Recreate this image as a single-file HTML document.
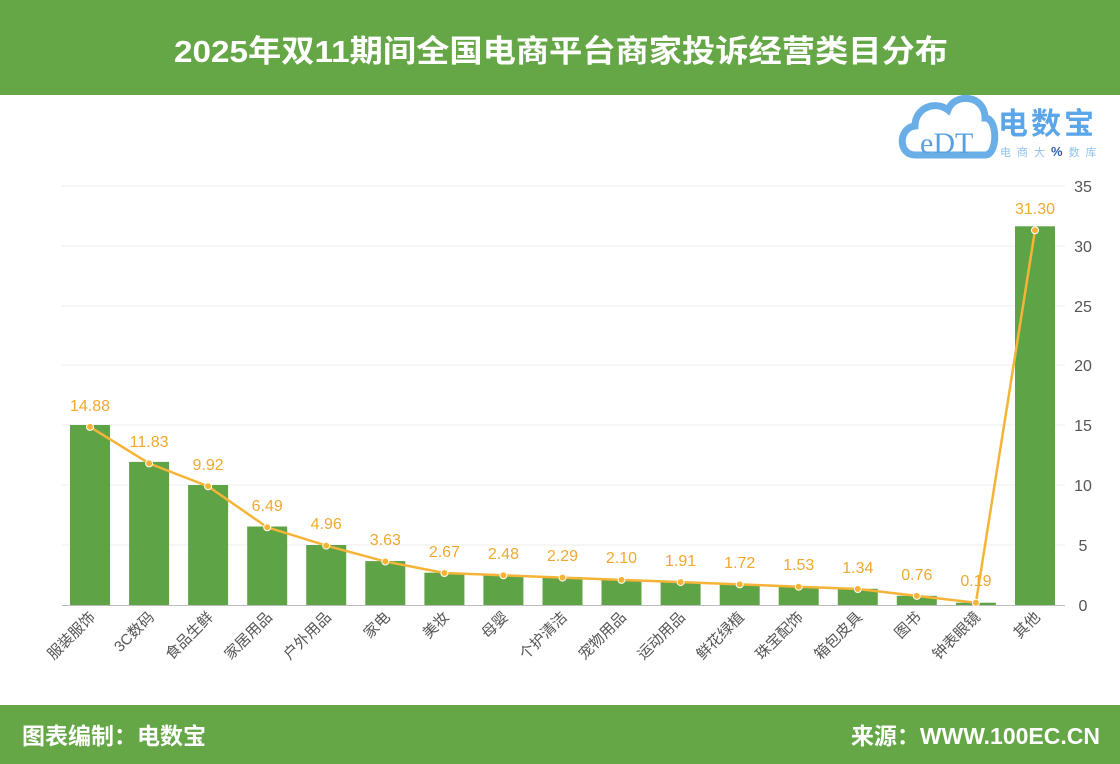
<!DOCTYPE html>
<html><head><meta charset="utf-8"><style>
body{margin:0;background:#fff}
svg{display:block}
</style></head><body>
<svg width="1120" height="764" viewBox="0 0 1120 764" xmlns="http://www.w3.org/2000/svg" font-family="Liberation Sans, Noto Sans CJK SC, sans-serif">
<rect width="1120" height="764" fill="#fff"/>
<rect x="0" y="0" width="1120" height="95" fill="#65a646"/>
<text x="561" y="62" text-anchor="middle" font-size="31" font-weight="bold" fill="#fff" textLength="774" lengthAdjust="spacingAndGlyphs">2025年双11期间全国电商平台商家投诉经营类目分布</text>
<rect x="0" y="705" width="1120" height="59" fill="#65a646"/>
<text x="22" y="744" font-size="23" font-weight="bold" fill="#fff">图表编制：电数宝</text>
<text x="1100" y="744" text-anchor="end" font-size="23" font-weight="bold" fill="#fff">来源：WWW.100EC.CN</text>
<!-- logo -->
<g>
<path d="M915 155 C898 155 898 128 915 126 C915 108 935 100 948 110 C955 92 985 95 985 118 C998 118 998 155 985 155 Z" fill="none" stroke="#6aaee8" stroke-width="7"/>
<text x="920" y="153" font-size="30" font-family="Liberation Serif, serif" fill="#5aa0e0">eDT</text>
<text x="998" y="134" font-size="30" font-weight="bold" fill="#5aa6e8" letter-spacing="3">电数宝</text>
<text x="1000" y="156" font-size="11" fill="#8fc0ec" letter-spacing="6">电商大<tspan fill="#2b5fae" font-weight="bold" font-size="13">%</tspan>数库</text>
</g>
<!-- grid -->
<g stroke="#ececec" stroke-width="1">
<line x1="62" x2="1065" y1="186" y2="186"/>
<line x1="62" x2="1065" y1="246" y2="246"/>
<line x1="62" x2="1065" y1="306" y2="306"/>
<line x1="62" x2="1065" y1="365" y2="365"/>
<line x1="62" x2="1065" y1="425" y2="425"/>
<line x1="62" x2="1065" y1="485" y2="485"/>
<line x1="62" x2="1065" y1="545" y2="545"/>
</g>
<g font-size="16" fill="#555" text-anchor="middle">
<text x="1083" y="192">35</text><text x="1083" y="252">30</text><text x="1083" y="312">25</text><text x="1083" y="371">20</text><text x="1083" y="431">15</text><text x="1083" y="491">10</text><text x="1083" y="551">5</text><text x="1083" y="611">0</text>
</g>
<g fill="#5ea446">
<rect x="70" y="425" width="40" height="180"/>
<rect x="129.1" y="461.9" width="40" height="143.1"/>
<rect x="188.1" y="485" width="40" height="120"/>
<rect x="247.2" y="526.5" width="40" height="78.5"/>
<rect x="306.2" y="545" width="40" height="60"/>
<rect x="365.3" y="561.1" width="40" height="43.9"/>
<rect x="424.4" y="572.7" width="40" height="32.3"/>
<rect x="483.4" y="575" width="40" height="30"/>
<rect x="542.5" y="577.3" width="40" height="27.7"/>
<rect x="601.5" y="579.6" width="40" height="25.4"/>
<rect x="660.6" y="581.9" width="40" height="23.1"/>
<rect x="719.7" y="584.2" width="40" height="20.8"/>
<rect x="778.7" y="586.5" width="40" height="18.5"/>
<rect x="837.8" y="588.8" width="40" height="16.2"/>
<rect x="896.8" y="595.8" width="40" height="9.2"/>
<rect x="955.9" y="602.7" width="40" height="2.3"/>
<rect x="1015" y="226.3" width="40" height="378.7"/>
</g>
<line x1="62" x2="1065" y1="605.5" y2="605.5" stroke="#bbb" stroke-width="1"/>
<polyline fill="none" stroke="#f5b437" stroke-width="2.5" points="90,426.9 149.1,463.4 208.1,486.3 267.2,527.3 326.2,545.6 385.3,561.5 444.4,573 503.4,575.3 562.5,577.6 621.5,579.9 680.6,582.1 739.7,584.4 798.7,586.7 857.8,589 916.8,595.9 975.9,602.7 1035,230.3"/>
<g fill="#f5b437" stroke="#fff" stroke-width="1">
<circle cx="90" cy="426.9" r="3.5"/><circle cx="149.1" cy="463.4" r="3.5"/><circle cx="208.1" cy="486.3" r="3.5"/><circle cx="267.2" cy="527.3" r="3.5"/><circle cx="326.2" cy="545.6" r="3.5"/><circle cx="385.3" cy="561.5" r="3.5"/><circle cx="444.4" cy="573" r="3.5"/><circle cx="503.4" cy="575.3" r="3.5"/><circle cx="562.5" cy="577.6" r="3.5"/><circle cx="621.5" cy="579.9" r="3.5"/><circle cx="680.6" cy="582.1" r="3.5"/><circle cx="739.7" cy="584.4" r="3.5"/><circle cx="798.7" cy="586.7" r="3.5"/><circle cx="857.8" cy="589" r="3.5"/><circle cx="916.8" cy="595.9" r="3.5"/><circle cx="975.9" cy="602.7" r="3.5"/><circle cx="1035" cy="230.3" r="3.5"/>
</g>
<g font-size="16" fill="#f0a830" text-anchor="middle">
<text x="90" y="411">14.88</text><text x="149.1" y="447">11.83</text><text x="208.1" y="470">9.92</text><text x="267.2" y="511">6.49</text><text x="326.2" y="529">4.96</text><text x="385.3" y="545">3.63</text><text x="444.4" y="557">2.67</text><text x="503.4" y="559">2.48</text><text x="562.5" y="561">2.29</text><text x="621.5" y="563">2.10</text><text x="680.6" y="566">1.91</text><text x="739.7" y="568">1.72</text><text x="798.7" y="570">1.53</text><text x="857.8" y="573">1.34</text><text x="916.8" y="580">0.76</text><text x="975.9" y="586">0.19</text><text x="1035" y="214">31.30</text>
</g>
<g font-size="15" fill="#555" text-anchor="end">
<text transform="translate(96,618) rotate(-45)">服装服饰</text>
<text transform="translate(155,618) rotate(-45)">3C数码</text>
<text transform="translate(214,618) rotate(-45)">食品生鲜</text>
<text transform="translate(273,618) rotate(-45)">家居用品</text>
<text transform="translate(332,618) rotate(-45)">户外用品</text>
<text transform="translate(391,618) rotate(-45)">家电</text>
<text transform="translate(450,618) rotate(-45)">美妆</text>
<text transform="translate(509,618) rotate(-45)">母婴</text>
<text transform="translate(568,618) rotate(-45)">个护清洁</text>
<text transform="translate(627,618) rotate(-45)">宠物用品</text>
<text transform="translate(686,618) rotate(-45)">运动用品</text>
<text transform="translate(745,618) rotate(-45)">鲜花绿植</text>
<text transform="translate(804,618) rotate(-45)">珠宝配饰</text>
<text transform="translate(863,618) rotate(-45)">箱包皮具</text>
<text transform="translate(922,618) rotate(-45)">图书</text>
<text transform="translate(981,618) rotate(-45)">钟表眼镜</text>
<text transform="translate(1041,618) rotate(-45)">其他</text>
</g>
</svg>
</body></html>
